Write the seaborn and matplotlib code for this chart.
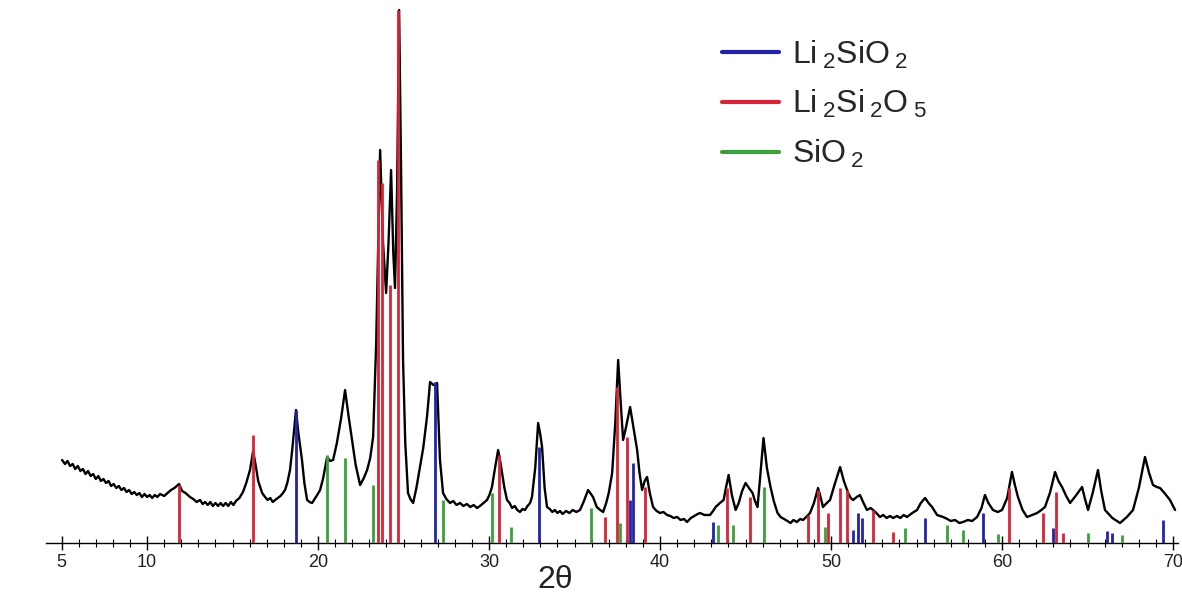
import numpy as np
import pandas as pd
import matplotlib
matplotlib.use("Agg")
import matplotlib.pyplot as plt
from matplotlib.lines import Line2D
from matplotlib.ticker import FixedLocator, MultipleLocator
import seaborn as sns

# measured XRD pattern (2theta, intensity a.u.)
two_theta = [5.03, 5.2, 5.35, 5.5, 5.65, 5.8, 5.95, 6.1, 6.25, 6.4, 6.55, 6.7, 6.85, 7.0, 7.15, 7.3, 7.45, 7.6,
             7.75, 7.9, 8.05, 8.2, 8.35, 8.5, 8.65, 8.8, 8.95, 9.1, 9.25, 9.4, 9.55, 9.7, 9.85, 10.0, 10.15, 10.3,
             10.45, 10.6, 10.76, 11.0, 11.2, 11.4, 11.6, 11.87, 12.05, 12.25, 12.51, 12.7, 12.9, 13.1, 13.25, 13.4,
             13.55, 13.7, 13.85, 14.0, 14.15, 14.3, 14.45, 14.6, 14.75, 14.9, 15.05, 15.2, 15.4, 15.61, 15.8, 16.02,
             16.2, 16.35, 16.5, 16.73, 16.9, 17.05, 17.2, 17.35, 17.49, 17.65, 17.8, 17.95, 18.07, 18.2, 18.36, 18.5,
             18.71, 18.85, 19.06, 19.2, 19.36, 19.5, 19.65, 19.8, 19.95, 20.12, 20.3, 20.53, 20.7, 20.88, 21.1, 21.35,
             21.58, 21.8, 21.99, 22.2, 22.46, 22.65, 22.87, 23.05, 23.22, 23.4, 23.63, 23.8, 23.98, 24.12, 24.27, 24.4,
             24.5, 24.62, 24.74, 24.85, 24.97, 25.1, 25.26, 25.4, 25.56, 25.75, 25.95, 26.15, 26.37, 26.55, 26.75,
             26.96, 27.05, 27.13, 27.31, 27.5, 27.72, 27.9, 28.1, 28.3, 28.5, 28.7, 28.9, 29.1, 29.3, 29.47, 29.68,
             29.88, 30.02, 30.17, 30.35, 30.53, 30.65, 30.76, 30.9, 31.05, 31.2, 31.35, 31.5, 31.65, 31.81, 31.95,
             32.1, 32.25, 32.4, 32.51, 32.7, 32.87, 33.0, 33.1, 33.25, 33.39, 33.55, 33.7, 33.85, 34.0, 34.15, 34.3,
             34.5, 34.7, 34.9, 35.1, 35.32, 35.55, 35.79, 36.08, 36.3, 36.5, 36.67, 36.85, 37.0, 37.2, 37.38, 37.55,
             37.7, 37.84, 38.0, 38.25, 38.45, 38.66, 38.8, 38.95, 39.1, 39.24, 39.4, 39.59, 39.8, 40.0, 40.2, 40.41,
             40.6, 40.8, 41.0, 41.2, 41.4, 41.58, 41.8, 42.0, 42.2, 42.34, 42.6, 42.92, 43.1, 43.25, 43.5, 43.72,
             43.85, 44.01, 44.2, 44.42, 44.6, 44.8, 45.0, 45.2, 45.41, 45.55, 45.7, 45.85, 46.05, 46.25, 46.46, 46.65,
             46.87, 47.05, 47.25, 47.45, 47.63, 47.8, 48.0, 48.2, 48.36, 48.55, 48.77, 49.0, 49.24, 49.4, 49.53,
             49.75, 49.94, 50.2, 50.53, 50.75, 51.0, 51.15, 51.29, 51.5, 51.69, 51.9, 52.1, 52.3, 52.46, 52.65, 52.86,
             53.05, 53.25, 53.45, 53.63, 53.85, 54.05, 54.25, 54.44, 54.75, 55.03, 55.25, 55.5, 55.7, 55.91, 56.2,
             56.55, 56.8, 57.0, 57.25, 57.5, 57.72, 58.0, 58.25, 58.54, 58.8, 59.0, 59.2, 59.47, 59.75, 60.0, 60.3,
             60.58, 60.75, 60.93, 61.2, 61.46, 61.75, 62.05, 62.3, 62.51, 62.8, 63.1, 63.3, 63.51, 63.75, 63.98, 64.3,
             64.68, 64.85, 65.03, 65.3, 65.61, 65.8, 66.02, 66.45, 66.9, 67.3, 67.66, 68.0, 68.36, 68.6, 68.83, 69.05,
             69.24, 69.5, 69.82, 70.12]
intensity = [83, 79, 82, 77, 79, 74, 77, 72, 74, 69, 72, 67, 69, 64, 67, 62, 64, 60,
             62, 57, 59, 55, 57, 53, 55, 51, 53, 49, 51, 48, 50, 46, 49, 46, 48, 45,
             48, 46, 49, 47, 50, 53, 55, 59, 52, 50, 46, 44, 41, 43, 39, 41,
             38, 41, 37, 40, 37, 40, 37, 40, 37, 41, 38, 42, 45, 51, 60, 73,
             92, 78, 62, 50, 46, 43, 45, 41, 43, 45, 47, 50, 53, 60, 73, 95,
             133, 110, 83, 60, 43, 41, 40, 44, 48, 53, 65, 86, 82, 83, 100, 125,
             153, 125, 103, 78, 58, 64, 73, 85, 106, 200, 393, 300, 250, 300, 373, 290,
             255, 350, 533, 380, 183, 100, 50, 44, 40, 55, 75, 95, 126, 161, 158,
             160, 120, 83, 50, 44, 40, 42, 38, 40, 37, 39, 36, 38, 35, 37, 40,
             43, 48, 56, 75, 93, 82, 70, 55, 43, 40, 35, 37, 33, 31, 34,
             33, 37, 40, 46, 75, 120, 108, 96, 55, 36, 34, 31, 33, 30, 32, 29,
             32, 30, 33, 31, 33, 42, 53, 46, 36, 33, 31, 40, 50, 70, 120, 183,
             140, 103, 115, 136, 115, 93, 70, 53, 62, 66, 50, 36, 32, 30, 31, 28,
             27, 25, 26, 23, 24, 21, 25, 27, 29, 30, 28, 28, 32, 36, 40, 43,
             55, 68, 48, 33, 40, 52, 60, 55, 50, 42, 36, 65, 105, 75, 56, 42,
             30, 26, 24, 22, 20, 23, 21, 24, 23, 26, 30, 40, 55, 45, 36,
             40, 43, 58, 76, 62, 50, 45, 43, 46, 48, 40, 33, 35, 33, 30, 26,
             28, 25, 27, 25, 27, 25, 28, 26, 30, 33, 40, 45, 40, 36, 28,
             26, 24, 22, 23, 20, 21, 23, 22, 26, 35, 48, 40, 33, 31, 33, 45,
             71, 58, 46, 33, 26, 28, 30, 33, 36, 50, 71, 62, 56, 47, 40, 47,
             56, 44, 33, 50, 73, 52, 33, 25, 20, 26, 33, 55, 86, 70, 58, 56,
             55, 50, 43, 33]

# reference stick patterns
li2sio2_pos = [18.71, 26.84, 32.92, 38.25, 38.42, 43.10, 51.29, 51.58, 51.81, 55.50, 58.89, 62.98, 66.14, 66.43,
               69.42]
li2sio2_int = [133, 161, 96, 43, 80, 21, 13, 30, 25, 25, 30, 15, 12, 10, 23]

li2si2o5_pos = [11.87, 16.20, 23.51, 23.74, 24.21, 24.68, 30.58, 36.78, 37.49, 38.07, 39.12, 43.92, 45.26, 48.65,
                49.24, 49.82, 50.53, 50.94, 52.46, 53.63, 60.41, 62.40, 63.16, 63.57]
li2si2o5_int = [58, 108, 383, 360, 258, 533, 88, 26, 156, 106, 56, 55, 46, 28, 53, 30, 55, 53, 33, 11, 55, 30, 51,
                10]

sio2_pos = [20.53, 21.58, 23.22, 27.31, 30.18, 31.29, 35.96, 37.66, 43.39, 44.27, 46.08, 49.65, 54.33, 56.78,
            57.72, 59.77, 65.03, 67.02]
sio2_int = [88, 85, 58, 43, 50, 16, 35, 20, 18, 18, 56, 16, 15, 18, 13, 9, 10, 8]

phase_labels = [r"Li$\,{}_{2}$SiO$\,{}_{2}$", r"Li$\,{}_{2}$Si$\,{}_{2}$O$\,{}_{5}$", r"SiO$\,{}_{2}$"]
phase_colors = ["#2323a8", "#d62536", "#3ba03b"]

sticks = pd.DataFrame({
    "pos": li2sio2_pos + li2si2o5_pos + sio2_pos,
    "height": li2sio2_int + li2si2o5_int + sio2_int,
    "phase": [phase_labels[0]] * len(li2sio2_pos) + [phase_labels[1]] * len(li2si2o5_pos)
             + [phase_labels[2]] * len(sio2_pos),
})

sns.set_style("white")
plt.rcParams["font.family"] = ["Liberation Sans", "DejaVu Sans"]
plt.rcParams["mathtext.default"] = "regular"

fig = plt.figure(figsize=(11.82, 6.15), dpi=100)
ax = fig.add_axes([46 / 1182, 72 / 615, 1132 / 1182, 543 / 615])

sns.lineplot(x=two_theta, y=intensity, color="black", lw=1.7, ax=ax, zorder=2)

for label, color in zip(phase_labels, phase_colors):
    sub = sticks[sticks["phase"] == label]
    ax.vlines(sub["pos"], 0, sub["height"], color=color, lw=2, zorder=3)

ax.set_xlim(4.09, 70.29)
ax.set_ylim(0, 543)
ax.set_yticks([])
ax.set_ylabel("")

for s in ["top", "left", "right"]:
    ax.spines[s].set_visible(False)
ax.spines["bottom"].set_color("black")
ax.spines["bottom"].set_linewidth(1.0)

ax.xaxis.set_major_locator(FixedLocator([5, 10, 20, 30, 40, 50, 60, 70]))
ax.xaxis.set_minor_locator(MultipleLocator(1))
ax.tick_params(axis="x", which="both", bottom=True)
ax.tick_params(axis="x", which="major", direction="inout", length=10, width=1, labelsize=13, pad=3, colors="black")
ax.tick_params(axis="x", which="minor", direction="inout", length=6, width=0.8, colors="black")
ax.tick_params(axis="x", labelcolor="#222222")

ax.set_xlabel("2θ", fontsize=23, color="#222222")
ax.xaxis.set_label_coords(0.45, -0.04)

handles = [Line2D([0], [0], color=c, lw=3) for c in phase_colors]
fig.legend(handles, phase_labels, loc="upper left", bbox_to_anchor=(0.6, 0.958), frameon=False,
           fontsize=23, handlelength=1.8, handletextpad=0.4, labelspacing=0.55, borderaxespad=0)

fig.savefig("out.png", dpi=100, facecolor="white")
